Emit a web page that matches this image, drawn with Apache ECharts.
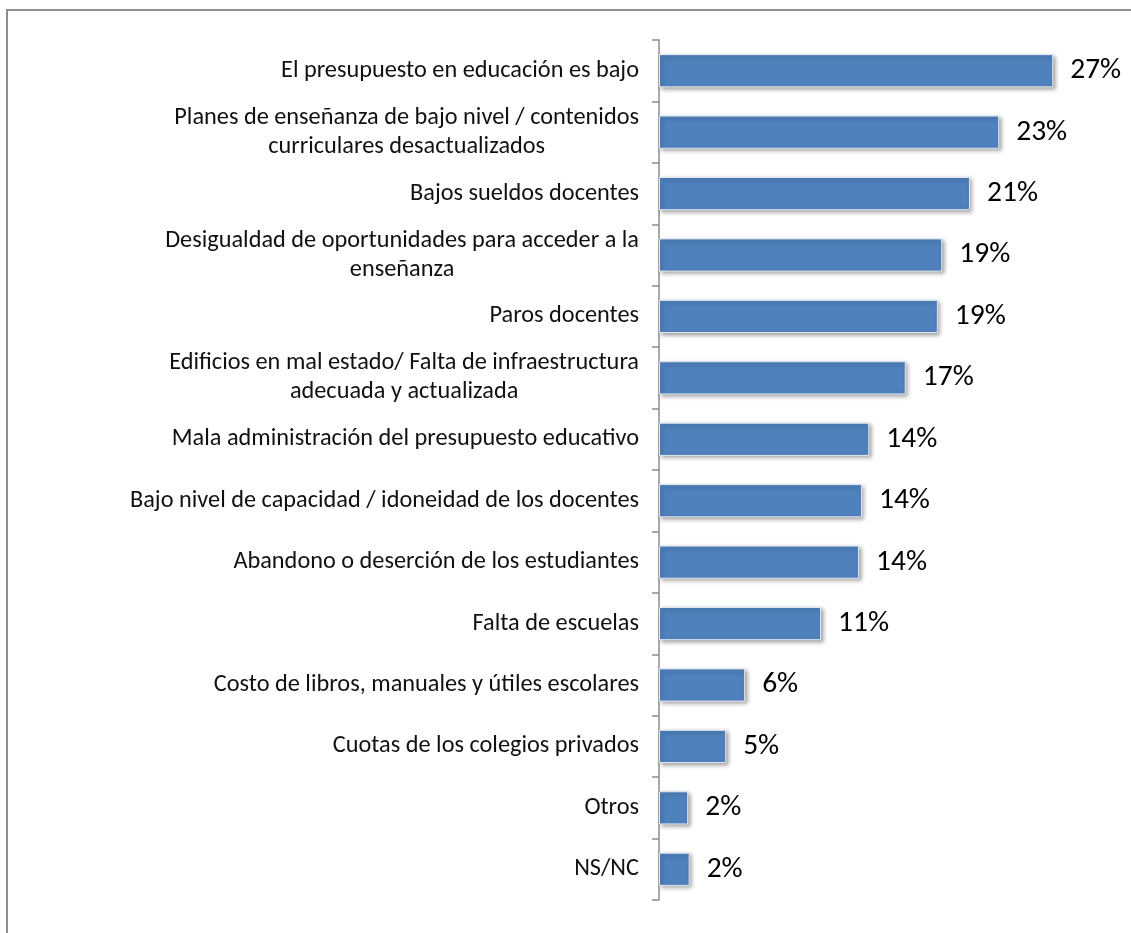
<!DOCTYPE html>
<html>
<head>
<meta charset="utf-8">
<script src="https://cdn.jsdelivr.net/npm/echarts@6/dist/echarts.min.js"></script>
<style>
html,body{margin:0;padding:0;background:#fff;}
#c{width:1131px;height:933px;}
</style>
</head>
<body>
<div id="c"></div>
<script>
const categories = [
  "El presupuesto en educación es bajo",
  "Planes de enseñanza de bajo nivel / contenidos\ncurriculares desactualizados",
  "Bajos sueldos docentes",
  "Desigualdad de oportunidades para acceder a la\nenseñanza",
  "Paros docentes",
  "Edificios en mal estado/ Falta de infraestructura\nadecuada y actualizada",
  "Mala administración del presupuesto educativo",
  "Bajo nivel de capacidad / idoneidad de los docentes",
  "Abandono o deserción de los estudiantes",
  "Falta de escuelas",
  "Costo de libros, manuales y útiles escolares",
  "Cuotas de los colegios privados",
  "Otros",
  "NS/NC"
];
const values = [27.0, 23.3, 21.3, 19.4, 19.1, 16.9, 14.4, 13.9, 13.7, 11.1, 5.9, 4.6, 2.0, 2.1];
const valueLabels = ["27%", "23%", "21%", "19%", "19%", "17%", "14%", "14%", "14%", "11%", "6%", "5%", "2%", "2%"];

const FONT = "Carlito, Lato, sans-serif";
const chart = echarts.init(document.getElementById('c'));
chart.setOption({
  animation: false,
  backgroundColor: '#ffffff',
  graphic: [{
    type: 'rect',
    shape: {x: 7, y: 10, width: 1300, height: 1100},
    style: {fill: 'none', stroke: '#8e8e8e', lineWidth: 2},
    silent: true
  }],
  grid: {left: 659, top: 40, bottom: 33, right: 34, containLabel: false},
  xAxis: {
    type: 'value', min: 0, max: 30, show: false
  },
  yAxis: {
    type: 'category',
    data: categories,
    inverse: true,
    axisLine: {show: true, lineStyle: {color: '#8e8e8e', width: 1.5}},
    axisTick: {show: true, length: 7, lineStyle: {color: '#8e8e8e', width: 1.5}},
    axisLabel: {
      margin: 20,
      fontFamily: FONT,
      fontSize: 24.3,
      color: '#111',
      lineHeight: 29,
      formatter: function (v) {
        return v.split('\n').map(function (s) { return '{c|' + s + '}'; }).join('\n');
      },
      rich: {c: {align: 'center', fontFamily: FONT, fontSize: 24.3, lineHeight: 29, color: '#111'}}
    }
  },
  series: [{
    type: 'bar',
    data: values,
    barCategoryGap: '46%',
    itemStyle: {
      color: '#4f81bd',
      borderColor: '#dfe8f3',
      borderWidth: 1,
      shadowColor: 'rgba(0,0,0,0.35)',
      shadowBlur: 4,
      shadowOffsetX: 2,
      shadowOffsetY: 2
    },
    label: {
      show: true,
      position: 'right',
      distance: 17,
      fontFamily: FONT,
      fontSize: 29.5,
      color: '#000',
      formatter: function (p) { return valueLabels[p.dataIndex]; }
    }
  }]
});
</script>
</body>
</html>
